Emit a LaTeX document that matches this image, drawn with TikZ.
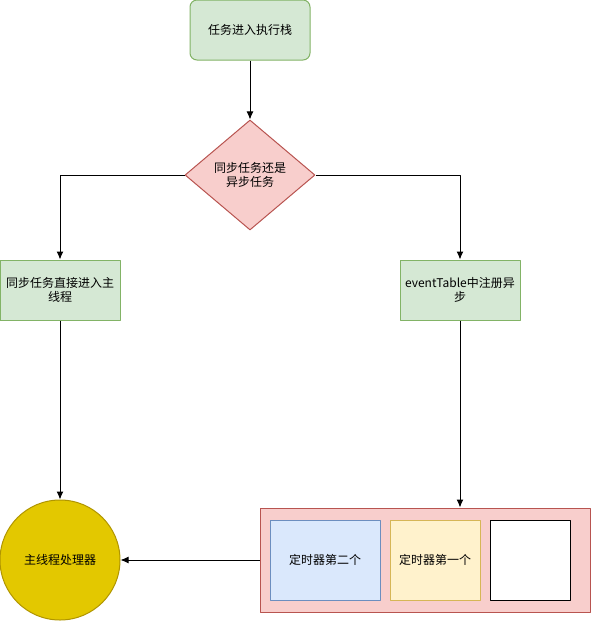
\documentclass[tikz,border=0pt]{standalone}
\usepackage{fontspec}
\setmainfont{Noto Sans CJK SC}
\usetikzlibrary{shapes.geometric,arrows.meta}
\definecolor{greenfill}{HTML}{D5E8D4}
\definecolor{greenline}{HTML}{82B366}
\definecolor{redfill}{HTML}{F8CECC}
\definecolor{redline}{HTML}{B85450}
\definecolor{bluefill}{HTML}{DAE8FC}
\definecolor{blueline}{HTML}{6C8EBF}
\definecolor{yellowfill}{HTML}{FFF2CC}
\definecolor{yellowline}{HTML}{D6B656}
\definecolor{goldfill}{HTML}{E3C800}
\definecolor{goldline}{HTML}{B09500}
\begin{document}
\begin{tikzpicture}[x=1pt,y=-1pt,>={Latex[length=8pt,width=7pt]},line join=bevel,line width=1pt,
  font=\fontsize{12}{14}\selectfont,
  greenbox/.style={draw=greenline,fill=greenfill,minimum width=120pt,minimum height=60pt,align=center,inner sep=0pt},
  timerbox/.style={minimum height=80pt,inner sep=0pt}]
 \useasboundingbox (0,0) rectangle (591,621);

 \node (node_0) at (250,30) [greenbox,rounded corners=7pt] {任务进入执行栈};
 \node (node_1) at (250,175) [diamond,draw=redline,fill=redfill,minimum width=130pt,minimum height=110pt,aspect=1.18,inner sep=0pt,align=center] {同步任务还是\\异步任务};
 \node (node_2) at (60,290) [greenbox] {同步任务直接进入主\\线程};
 \node (node_3) at (460,290) [greenbox] {eventTable中注册异\\步};
 \node (node_4) at (60,560) [circle,draw=goldline,fill=goldfill,minimum size=120pt,inner sep=0pt] {主线程处理器};
 \node (node_5) at (425,560) [draw=redline,fill=redfill,minimum width=330pt,minimum height=104pt,inner sep=0pt] {};
 \node (node_6) at (325,560) [timerbox,draw=blueline,fill=bluefill,minimum width=110pt] {定时器第二个};
 \node (node_7) at (435,560) [timerbox,draw=yellowline,fill=yellowfill,minimum width=90pt] {定时器第一个};
 \node (node_8) at (530,560) [timerbox,draw=black,fill=white,minimum width=80pt] {};

  \draw [black,->] (node_0) -- (node_1);
  \draw [black,->] (node_1.west) -| (node_2.north);
  \draw [black,->] (node_1.east) -| (node_3.north);
  \draw [black,->] (node_2.south) -- (node_4.north);
  \draw [black,->] (node_3.south) -- (node_3.south |- node_5.north);
  \draw [black,->] (node_5.west) -- (node_4.east);
\end{tikzpicture}
\end{document}
